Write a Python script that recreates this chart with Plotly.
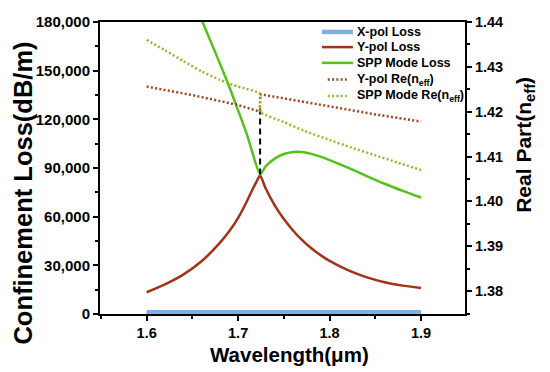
import plotly.graph_objects as go

# ---- data ----
wl_ypol = [1.60, 1.62, 1.64, 1.66, 1.68, 1.69, 1.70, 1.71, 1.715, 1.72, 1.724,
           1.73, 1.74, 1.75, 1.76, 1.77, 1.78, 1.79, 1.80, 1.82, 1.84, 1.86, 1.88, 1.90]
loss_ypol = [13400, 18300, 24300, 32500, 43800, 50800, 59300, 70000, 76000, 81500, 85500,
             77500, 67000, 58500, 51500, 45500, 40500, 36300, 32700, 27000, 22700, 19600, 17500, 16000]

wl_spp = [1.60, 1.62, 1.64, 1.66, 1.68, 1.69, 1.70, 1.71, 1.724,
          1.73, 1.74, 1.75, 1.76, 1.765, 1.77, 1.78, 1.79, 1.80, 1.82, 1.84, 1.86, 1.88, 1.90]
loss_spp = [263000, 236000, 208500, 181500, 154500, 140500, 125500, 110000, 86000,
            91000, 95800, 98600, 99900, 100000, 99800, 98700, 97000, 94900, 90200, 85200, 80300, 75900, 71800]

wl_xpol = [1.60, 1.65, 1.70, 1.75, 1.80, 1.85, 1.90]
loss_xpol = [1300, 1300, 1300, 1300, 1300, 1300, 1300]

wl_ypol_n = [1.60, 1.65, 1.70, 1.724, 1.724, 1.80, 1.85, 1.90]
n_ypol = [1.4256, 1.4237, 1.4215, 1.4200, 1.4239, 1.4211, 1.4194, 1.4178]

wl_spp_n = [1.60, 1.62, 1.64, 1.66, 1.68, 1.70, 1.724, 1.724, 1.75, 1.7714, 1.80, 1.8224, 1.85, 1.875, 1.90]
n_spp = [1.4360, 1.4337, 1.4313, 1.4290, 1.4271, 1.4256, 1.4240, 1.4200, 1.4177, 1.4158, 1.4137, 1.4121, 1.4103, 1.4086, 1.4070]

marker_wl = [1.724, 1.724]
marker_loss = [86000, 128000]

x_ticks = [1.6, 1.7, 1.8, 1.9]
x_ticklabels = ["1.6", "1.7", "1.8", "1.9"]
y_ticks = [0, 30000, 60000, 90000, 120000, 150000, 180000]
y_ticklabels = ["0", "30,000", "60,000", "90,000", "120,000", "150,000", "180,000"]
y2_ticks = [1.38, 1.39, 1.40, 1.41, 1.42, 1.43, 1.44]
y2_ticklabels = ["1.38", "1.39", "1.40", "1.41", "1.42", "1.43", "1.44"]

legend_names = ["X-pol Loss", "Y-pol Loss", "SPP Mode Loss",
                "Y-pol Re(n<sub>eff</sub>)", "SPP Mode Re(n<sub>eff</sub>)"]
x_title = "Wavelength(μm)"
y_title = "Confinement Loss(dB/m)"
y2_title = "Real Part(n<sub>eff</sub>)"

FONT = "Liberation Sans, Arial, sans-serif"
C_X = "#7fb0e4"
C_Y = "#a3321a"
C_SPP = "#55c21b"
C_YN = "#a4431f"
C_SPPN = "#93bb2c"
DOT = "2px,2.3px"

styles = [dict(color=C_X, width=4.5, dash="solid"),
          dict(color=C_Y, width=2.5, dash="solid"),
          dict(color=C_SPP, width=2.5, dash="solid"),
          dict(color=C_YN, width=2.5, dash=DOT),
          dict(color=C_SPPN, width=2.5, dash=DOT)]

fig = go.Figure()
fig.add_trace(go.Scatter(x=wl_xpol, y=loss_xpol, mode="lines", name=legend_names[0],
                         line=dict(color=C_X, width=4)))
fig.add_trace(go.Scatter(x=wl_ypol, y=loss_ypol, mode="lines", name=legend_names[1],
                         line=dict(color=C_Y, width=2.5, shape="spline", smoothing=0.5)))
fig.add_trace(go.Scatter(x=wl_spp, y=loss_spp, mode="lines", name=legend_names[2],
                         line=dict(color=C_SPP, width=2.5, shape="spline", smoothing=0.5)))
fig.add_trace(go.Scatter(x=wl_ypol_n, y=n_ypol, mode="lines", name=legend_names[3],
                         yaxis="y2", line=dict(color=C_YN, width=2.5, dash=DOT)))
fig.add_trace(go.Scatter(x=wl_spp_n, y=n_spp, mode="lines", name=legend_names[4],
                         yaxis="y2", line=dict(color=C_SPPN, width=2.5, dash=DOT,
                                               shape="spline", smoothing=0.5)))
fig.add_trace(go.Scatter(x=marker_wl, y=marker_loss, mode="lines", showlegend=False,
                         line=dict(color="black", width=2, dash="6px,4px")))

# compact legend drawn in paper coordinates
row_y = [0.966, 0.914, 0.860, 0.803, 0.747]
shapes = []
annotations = []
for i, (nm, st) in enumerate(zip(legend_names, styles)):
    if st["dash"] == "solid":
        x0, x1 = 0.608, 0.693
    else:
        x0, x1 = 0.624, 0.676
    shapes.append(dict(type="line", xref="paper", yref="paper", x0=x0, x1=x1,
                       y0=row_y[i], y1=row_y[i],
                       line=dict(color=st["color"], width=st["width"], dash=st["dash"])))
    annotations.append(dict(xref="paper", yref="paper", x=0.699, y=row_y[i],
                            xanchor="left", yanchor="middle", showarrow=False,
                            text="<b>" + nm + "</b>",
                            font=dict(size=12.5, family=FONT, color="black")))

# axis titles
annotations.append(dict(xref="paper", yref="paper", x=0.518, y=-0.140, xanchor="center", yanchor="middle",
                        showarrow=False, text="<b>" + x_title + "</b>",
                        font=dict(size=20.5, family=FONT, color="black")))
annotations.append(dict(xref="paper", yref="paper", x=-0.2096, y=0.414, xanchor="center", yanchor="middle",
                        showarrow=False, textangle=-90, text="<b>" + y_title + "</b>",
                        font=dict(size=25.5, family=FONT, color="black")))
annotations.append(dict(xref="paper", yref="paper", x=1.164, y=0.579, xanchor="center", yanchor="middle",
                        showarrow=False, textangle=-90, text="<b>" + y2_title + "</b>",
                        font=dict(size=21, family=FONT, color="black")))

fig.update_layout(
    width=550, height=372,
    margin=dict(l=92, r=93, t=14, b=66),
    paper_bgcolor="white", plot_bgcolor="white",
    font=dict(family=FONT, color="black"),
    showlegend=False,
    shapes=shapes, annotations=annotations,
    xaxis=dict(range=[1.549, 1.948], tickvals=x_ticks, ticktext=["<b>%s</b>" % t for t in x_ticklabels],
               automargin=False,
               showline=True, linecolor="black", linewidth=2, mirror=True,
               ticks="outside", ticklen=5, tickwidth=2, tickcolor="black",
               minor=dict(tickvals=[1.55, 1.65, 1.75, 1.85], ticks="outside", ticklen=3, tickwidth=2, tickcolor="black"),
               showgrid=False, zeroline=False,
               tickfont=dict(size=14.5, family=FONT)),
    yaxis=dict(range=[0, 180000], tickvals=y_ticks, ticktext=["<b>%s</b>" % t for t in y_ticklabels],
               automargin=False,
               showline=True, linecolor="black", linewidth=2,
               ticks="outside", ticklen=5, tickwidth=2, tickcolor="black",
               minor=dict(dtick=15000, ticks="outside", ticklen=3, tickwidth=2, tickcolor="black"),
               showgrid=False, zeroline=False,
               tickfont=dict(size=15, family=FONT)),
    yaxis2=dict(range=[1.3749, 1.44], overlaying="y", side="right",
                tickvals=y2_ticks, ticktext=["<b>%s</b>" % t for t in y2_ticklabels],
                automargin=False,
                showline=True, linecolor="black", linewidth=2,
                ticks="outside", ticklen=5, tickwidth=2, tickcolor="black",
                minor=dict(tickvals=[1.375, 1.385, 1.395, 1.405, 1.415, 1.425, 1.435], ticks="outside",
                           ticklen=3, tickwidth=2, tickcolor="black"),
                showgrid=False, zeroline=False,
                tickfont=dict(size=14.5, family=FONT)),
)

fig.write_html("out.html")
